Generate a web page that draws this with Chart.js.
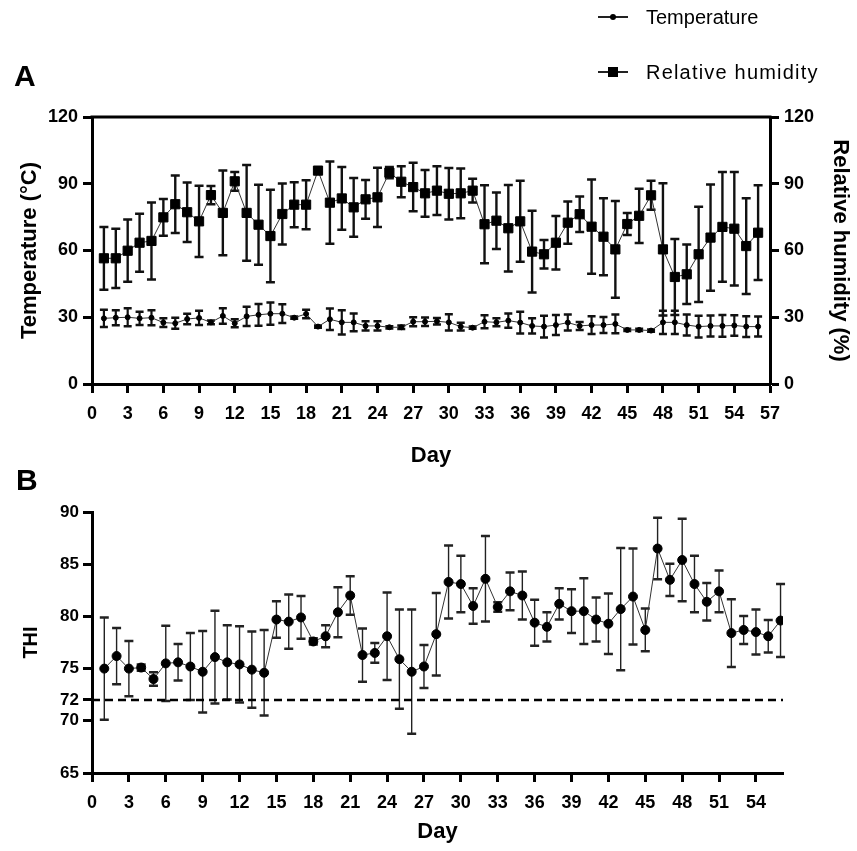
<!DOCTYPE html>
<html>
<head>
<meta charset="utf-8">
<script src="https://cdn.jsdelivr.net/npm/chart.js@4.4.1/dist/chart.umd.min.js"></script>
<style>
  body { margin: 0; background: #fff; }
  #wrap { position: relative; width: 857px; height: 851px; overflow: hidden; }
  canvas { position: absolute; left: 0; }
  .panel { position: absolute; font: bold 30px 'Liberation Sans', Arial, sans-serif; color: #000; }
  .leg { position: absolute; left: 598px; height: 24px; display: flex; align-items: center;
         font: 20px 'Liberation Sans', Arial, sans-serif; color: #000; }
  .ln { position: relative; width: 30px; height: 2px; background: #222; margin-right: 18px; }
  .dot { position: absolute; left: 12px; top: -2px; width: 6px; height: 6px; border-radius: 50%; background: #000; }
  .sq { position: absolute; left: 10px; top: -4px; width: 10px; height: 10px; background: #000; }
</style>
</head>
<body>
<div id="wrap">
  <canvas id="chartA" width="857" height="480" style="top:0"></canvas>
  <canvas id="chartB" width="857" height="371" style="top:480px"></canvas>
  <div class="panel" style="left:14px; top:59px">A</div>
  <div class="panel" style="left:16px; top:463px">B</div>
  <div class="leg" style="top:5px"><span class="ln"><i class="dot"></i></span>Temperature</div>
  <div class="leg" style="top:60px; letter-spacing:1.2px"><span class="ln"><i class="sq"></i></span>Relative humidity</div>
</div>
<script>
// days 1..56
const days = Array.from({length: 56}, (_, i) => i + 1);

const tempMean = [29.5,29.8,30,29.5,29.8,27.6,27.3,29.2,29.7,27.7,30.6,27.3,30.4,31.1,31.6,31.6,29.8,31.5,25.8,29.1,
  27.7,27.7,26.1,26.1,25.5,25.5,28,28,28.2,27.7,25.8,25.3,28,27.7,28.5,27.6,26.1,25.8,26.5,27.6,
  26.1,26.5,26.5,27,24.3,24.3,24,27.7,27.7,26.5,25.8,26.1,26.1,26.3,25.8,25.8];
const tempSD = [3.9,3.4,4.1,3,3.4,2,2.5,2.4,3.2,0.8,3.5,1.8,4.3,4.9,5,4.2,0.5,1.9,0.5,4.8,
  5.4,4,2.1,2.1,0.5,0.8,2,1.9,1.5,3.6,1.7,0.5,2.9,1.8,3.2,4.9,3.4,4.9,4.5,3.6,
  1.8,4,3.6,4.2,0.5,0.5,0.5,5.2,5.2,4.7,4.9,4.7,4.9,4.6,4.7,4.5];

const rhMean = [56.5,56.5,59.9,63.5,64.3,74.9,80.8,77.2,73.1,84.9,76.9,91.1,76.9,71.6,66.5,76.4,80.6,80.6,95.9,81.5,
  83.4,79.4,83,83.9,95,90.9,88.5,85.7,86.9,85.5,85.7,86.9,71.8,73.4,70,73.1,59.5,58.3,63.5,72.5,
  76.3,70.7,66.2,60.5,71.9,75.6,84.8,60.5,48.1,49.3,58.3,65.8,70.6,69.8,62,68];
const rhSD = [14.1,13.3,14,13,17.3,8.3,12.9,13.4,16,4.1,19,4.2,21.5,18,20.8,13.7,10.1,11,0.8,18.5,
  14.1,13.2,8.7,13.3,2.5,7,10.9,10.5,11,11.6,11.2,5.3,17.5,12.7,19.4,18.2,18.4,6.4,12,9.5,
  8,21.2,17.3,21.7,4.9,12.2,6.5,29.7,17.1,13.4,21.4,23.9,24.7,25.5,21.5,21.3];

const thiMean = [75,76.2,75,75.1,74,75.5,75.6,75.2,74.7,76.1,75.6,75.4,74.9,74.6,79.7,79.5,79.9,77.6,78.1,80.4,
  82,76.3,76.5,78.1,75.9,74.7,75.2,78.3,83.3,83.1,81,83.6,80.9,82.4,82,79.4,79,81.2,80.5,80.5,
  79.7,79.3,80.7,81.9,78.7,86.5,83.5,85.4,83.1,81.4,82.4,78.4,78.7,78.5,78.1,79.6];
const thiSD = [4.9,2.7,2.65,0.3,0.65,3.6,1.75,3.2,3.9,4.45,3.55,3.65,3.65,4.1,1.75,2.6,2.05,0.3,1.05,2.4,
  1.85,2.55,0.95,4.2,4.75,5.95,2.05,3.95,3.5,2.7,1.7,4.1,0.45,1.8,2.3,2.2,1.4,1.5,2.1,3.15,
  2.1,2.9,5.85,4.6,2.05,2.95,1.55,3.95,2.7,1.8,2,3.25,1.35,2.15,1.55,3.5];

const thiThreshold = 72;
const thiYTicks = [65, 70, 72, 75, 80, 85, 90];
const thiXTicks = [0, 3, 6, 9, 12, 15, 18, 21, 24, 27, 30, 33, 36, 39, 42, 45, 48, 51, 54];

const FONT = "'Liberation Sans', Arial, sans-serif";

function pts(ys) {
  return days.map((d, i) => ({x: d, y: ys[i]}));
}

// vertical error bars with caps, drawn under the markers
const errorBars = {
  id: 'errorBars',
  beforeDatasetsDraw(chart) {
    const ctx = chart.ctx;
    chart.data.datasets.forEach((ds, i) => {
      if (!ds.errors) return;
      const meta = chart.getDatasetMeta(i);
      const xs = chart.scales[meta.xAxisID];
      const ys = chart.scales[meta.yAxisID];
      ctx.save();
      ctx.strokeStyle = ds.errColor || '#111';
      ds.data.forEach((p, j) => {
        const e = ds.errors[j];
        if (!e) return;
        const x = xs.getPixelForValue(p.x);
        const t = ys.getPixelForValue(p.y + e);
        const b = ys.getPixelForValue(p.y - e);
        ctx.lineWidth = ds.errWidth;
        ctx.beginPath();
        ctx.moveTo(x, t); ctx.lineTo(x, b);
        ctx.stroke();
        ctx.lineWidth = ds.capWidth;
        ctx.beginPath();
        ctx.moveTo(x - ds.capHalf, t); ctx.lineTo(x + ds.capHalf, t);
        ctx.moveTo(x - ds.capHalf, b); ctx.lineTo(x + ds.capHalf, b);
        ctx.stroke();
      });
      ctx.restore();
    });
  }
};

// top border of panel A
const topFrame = {
  id: 'topFrame',
  afterDraw(chart) {
    const a = chart.chartArea, ctx = chart.ctx;
    ctx.save();
    ctx.strokeStyle = '#000';
    ctx.lineWidth = 3;
    ctx.beginPath();
    ctx.moveTo(a.left - 1.5, a.top);
    ctx.lineTo(a.right + 1.5, a.top);
    ctx.stroke();
    ctx.restore();
  }
};

function axisStyle(extra) {
  return Object.assign({
    grid: {drawOnChartArea: false, drawTicks: true, tickLength: 9, tickWidth: 3, tickColor: '#000'},
    border: {display: true, color: '#000', width: 3},
  }, extra);
}

new Chart(document.getElementById('chartA'), {
  type: 'line',
  data: {
    datasets: [
      {
        label: 'Temperature', data: pts(tempMean), yAxisID: 'y', errors: tempSD,
        errWidth: 2.2, capWidth: 2.5, capHalf: 4,
        borderColor: '#333', borderWidth: 1, pointStyle: 'circle', pointRadius: 2.5,
        pointBackgroundColor: '#000', pointBorderColor: '#000', pointBorderWidth: 1
      },
      {
        label: 'Relative humidity', data: pts(rhMean), yAxisID: 'y2', errors: rhSD,
        errWidth: 2.4, capWidth: 2.5, capHalf: 4.5,
        borderColor: '#333', borderWidth: 1, pointStyle: 'rect', pointRadius: 6.5,
        pointBackgroundColor: '#000', pointBorderColor: '#000', pointBorderWidth: 1
      }
    ]
  },
  options: {
    responsive: false, animation: false,
    layout: {padding: {top: 117, left: 0, right: 0, bottom: 0}},
    plugins: {legend: {display: false}, tooltip: {enabled: false}},
    scales: {
      x: axisStyle({
        type: 'linear', position: 'bottom', min: 0, max: 57,
        ticks: {stepSize: 3, autoSkip: false, maxRotation: 0, color: '#000', padding: 10,
                font: {family: FONT, size: 18, weight: 'bold'}},
        title: {display: true, text: 'Day', color: '#000', padding: {bottom: 11},
                font: {family: FONT, size: 22, weight: 'bold'}},
        afterFit(s) { s.height = 96; }
      }),
      y: axisStyle({
        position: 'left', min: 0, max: 120,
        ticks: {stepSize: 30, color: '#000', padding: 5, font: {family: FONT, size: 18, weight: 'bold'}},
        title: {display: true, text: 'Temperature (°C)', color: '#000', padding: {top: 17},
                font: {family: FONT, size: 22, weight: 'bold'}},
        afterFit(s) { s.width = 92; }
      }),
      y2: axisStyle({
        position: 'right', min: 0, max: 120,
        ticks: {stepSize: 30, color: '#000', padding: 5, font: {family: FONT, size: 18, weight: 'bold'}},
        title: {display: true, text: 'Relative humidity (%)', color: '#000', padding: {top: 4},
                font: {family: FONT, size: 22, weight: 'bold'}},
        afterFit(s) { s.width = 87; }
      })
    }
  },
  plugins: [errorBars, topFrame]
});

new Chart(document.getElementById('chartB'), {
  type: 'line',
  data: {
    datasets: [
      {
        label: 'THI', data: pts(thiMean), errors: thiSD, order: 1,
        errWidth: 1.4, capWidth: 2.5, capHalf: 4.5, errColor: '#222',
        borderColor: '#333', borderWidth: 1, pointStyle: 'circle', pointRadius: 4.5,
        pointBackgroundColor: '#000', pointBorderColor: '#000', pointBorderWidth: 1
      },
      {
        label: 'Threshold', order: 2,
        data: [{x: 0, y: thiThreshold}, {x: 56.2, y: thiThreshold}],
        borderColor: '#000', borderWidth: 2.5, borderDash: [8, 5], pointRadius: 0
      }
    ]
  },
  options: {
    responsive: false, animation: false,
    layout: {padding: {top: 32, left: 0, right: 74, bottom: 0}},
    plugins: {legend: {display: false}, tooltip: {enabled: false}},
    scales: {
      x: axisStyle({
        type: 'linear', position: 'bottom', min: 0, max: 56.2,
        afterBuildTicks(s) { s.ticks = thiXTicks.map(v => ({value: v})); },
        ticks: {autoSkip: false, maxRotation: 0, color: '#000', padding: 10,
                font: {family: FONT, size: 18, weight: 'bold'}},
        title: {display: true, text: 'Day', color: '#000', padding: {bottom: 6},
                font: {family: FONT, size: 22, weight: 'bold'}},
        afterFit(s) { s.height = 78; }
      }),
      y: axisStyle({
        position: 'left', min: 65, max: 90,
        afterBuildTicks(s) { s.ticks = thiYTicks.map(v => ({value: v})); },
        ticks: {color: '#000', padding: 4, font: {family: FONT, size: 17, weight: 'bold'}},
        title: {display: true, text: 'THI', color: '#000', padding: {top: 19},
                font: {family: FONT, size: 20, weight: 'bold'}},
        afterFit(s) { s.width = 92; }
      })
    }
  },
  plugins: [errorBars]
});
</script>
</body>
</html>
